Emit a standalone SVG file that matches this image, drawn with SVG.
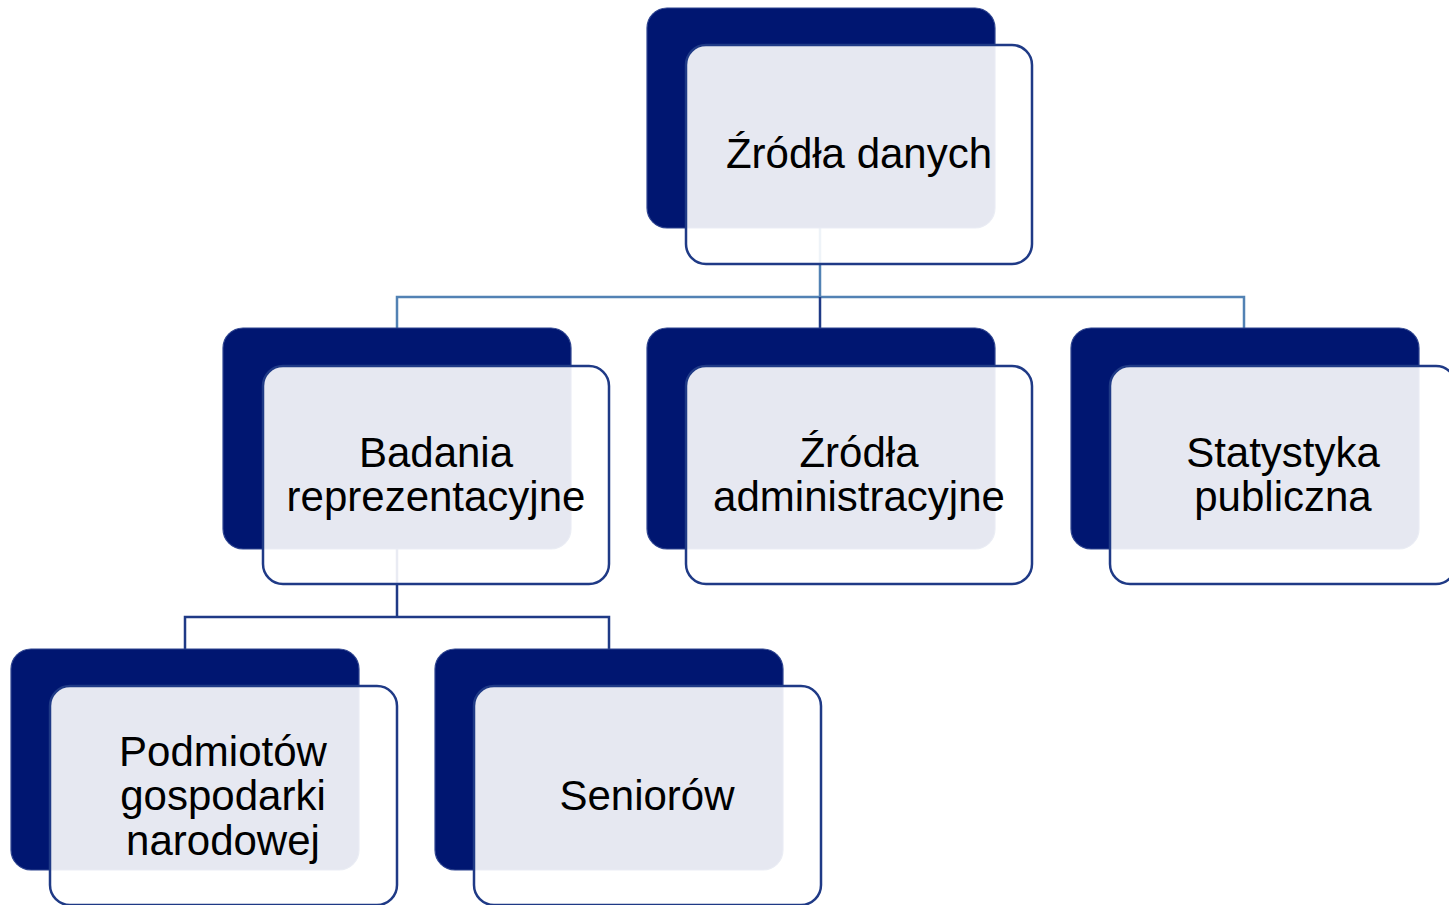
<svg xmlns="http://www.w3.org/2000/svg" width="1449" height="905" viewBox="0 0 1449 905">
<style>
.back{fill:#001671;stroke:#2F4590;stroke-width:1.2}
.front{fill:#ffffff;fill-opacity:0.9;stroke:#1F3A86;stroke-width:2.5}
.lbl{font-family:"Liberation Sans",Arial,sans-serif;font-size:42px;fill:#000;text-anchor:middle}
.c1{fill:none;stroke:#5282B4;stroke-width:2.5}
.c2{fill:none;stroke:#1F3A86;stroke-width:2.5}
</style>
<rect width="1449" height="905" fill="#ffffff"/>
<g id="connectors">
<path class="c1" d="M820 228V297M397 328V297H1244V328"/>
<path class="c2" d="M820 297V328"/>
<path class="c2" d="M397 549V617M185 649V617H609V649"/>
</g>
<g id="n-zrodla-danych">
<rect class="back" x="647" y="8" width="348" height="220" rx="20"/>
<rect class="front" x="686" y="45" width="346" height="219" rx="20"/>
<text class="lbl" x="859" y="168">Źródła danych</text>
</g>
<g id="n-badania">
<rect class="back" x="223" y="328" width="348" height="221" rx="20"/>
<rect class="front" x="263" y="366" width="346" height="218" rx="20"/>
<text class="lbl" x="436" y="467">Badania</text>
<text class="lbl" x="436" y="511">reprezentacyjne</text>
</g>
<g id="n-zrodla-admin">
<rect class="back" x="647" y="328" width="348" height="221" rx="20"/>
<rect class="front" x="686" y="366" width="346" height="218" rx="20"/>
<text class="lbl" x="859" y="467">Źródła</text>
<text class="lbl" x="859" y="511">administracyjne</text>
</g>
<g id="n-statystyka">
<rect class="back" x="1071" y="328" width="348" height="221" rx="20"/>
<rect class="front" x="1110" y="366" width="346" height="218" rx="20"/>
<text class="lbl" x="1283" y="467">Statystyka</text>
<text class="lbl" x="1283" y="511">publiczna</text>
</g>
<g id="n-podmiotow">
<rect class="back" x="11" y="649" width="348" height="221" rx="20"/>
<rect class="front" x="50" y="686" width="347" height="219" rx="20"/>
<text class="lbl" x="223" y="766">Podmiotów</text>
<text class="lbl" x="223" y="810">gospodarki</text>
<text class="lbl" x="223" y="855">narodowej</text>
</g>
<g id="n-seniorow">
<rect class="back" x="435" y="649" width="348" height="221" rx="20"/>
<rect class="front" x="474" y="686" width="347" height="219" rx="20"/>
<text class="lbl" x="647" y="810">Seniorów</text>
</g>
</svg>
